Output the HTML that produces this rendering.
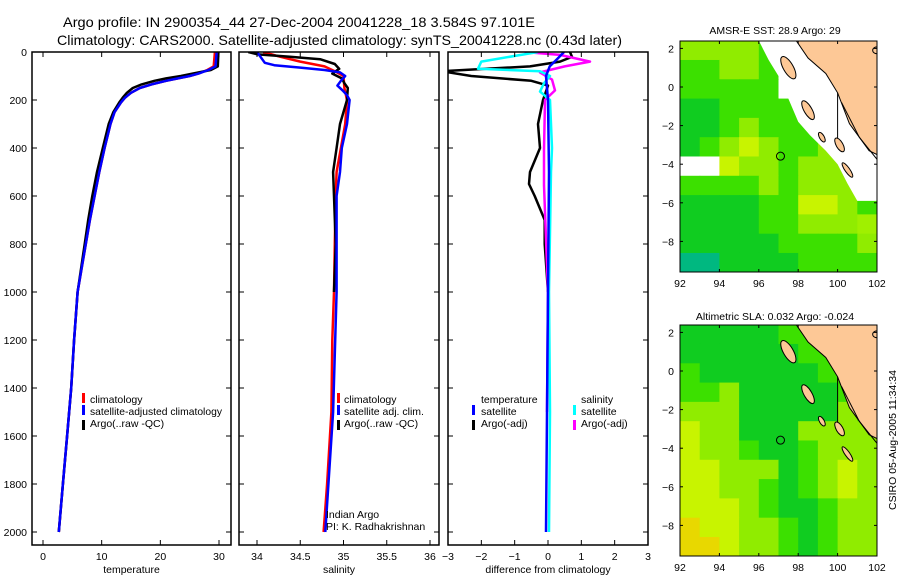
<!DOCTYPE html>
<html><head><meta charset="utf-8"><style>
html,body{margin:0;padding:0;background:#fff}
svg{display:block;font-family:"Liberation Sans",sans-serif}
</style></head><body>
<svg id="s" width="900" height="580" viewBox="0 0 900 580" xmlns="http://www.w3.org/2000/svg">
<defs>
<clipPath id="c1"><rect x="32" y="52" width="199" height="493"/></clipPath>
<clipPath id="c2"><rect x="239" y="52" width="200" height="493"/></clipPath>
<clipPath id="c3"><rect x="448" y="52" width="200" height="493"/></clipPath>
<clipPath id="m1"><rect x="680" y="41" width="197" height="231"/></clipPath>
<clipPath id="m2"><rect x="680" y="325" width="197" height="231"/></clipPath>
</defs>
<text x="63" y="27" font-size="14" textLength="472" lengthAdjust="spacingAndGlyphs">Argo profile: IN 2900354_44 27-Dec-2004 20041228_18 3.584S 97.101E</text>
<text x="57" y="45" font-size="14" textLength="565" lengthAdjust="spacingAndGlyphs">Climatology: CARS2000. Satellite-adjusted climatology: synTS_20041228.nc (0.43d later)</text>
<g id="g1" clip-path="url(#c1)"></g>
<g id="g2" clip-path="url(#c2)"></g>
<g id="g3" clip-path="url(#c3)"></g>
<g id="axes"></g>
<g id="map1" clip-path="url(#m1)"></g>
<g id="map2" clip-path="url(#m2)"></g>
<g id="maxes"></g>

<g font-size="10.5">
<rect x="82" y="393" width="3" height="10" fill="#f00"/><text x="90" y="403">climatology</text>
<rect x="82" y="405" width="3" height="10" fill="#00f"/><text x="90" y="415" textLength="132" lengthAdjust="spacingAndGlyphs">satellite-adjusted climatology</text>
<rect x="82" y="420" width="3" height="10" fill="#000"/><text x="90" y="427">Argo(..raw -QC)</text>
</g>
<g font-size="10.5">
<rect x="337" y="393" width="3" height="10" fill="#f00"/><text x="344" y="403">climatology</text>
<rect x="337" y="405" width="3" height="10" fill="#00f"/><text x="344" y="415">satellite adj. clim.</text>
<rect x="337" y="420" width="3" height="10" fill="#000"/><text x="344" y="427">Argo(..raw -QC)</text>
<text x="326" y="518">Indian Argo</text>
<text x="326" y="530">PI: K. Radhakrishnan</text>
</g>
<g font-size="10.5">
<text x="481" y="403">temperature</text>
<rect x="472" y="405" width="3" height="10" fill="#00f"/><text x="481" y="415">satellite</text>
<rect x="472" y="420" width="3" height="10" fill="#000"/><text x="481" y="427">Argo(-adj)</text>
<text x="581" y="403">salinity</text>
<rect x="573" y="405" width="3" height="10" fill="#0ff"/><text x="581" y="415">satellite</text>
<rect x="573" y="420" width="3" height="10" fill="#f0f"/><text x="581" y="427">Argo(-adj)</text>
</g>
<text x="775" y="34" font-size="10.5" text-anchor="middle">AMSR-E SST: 28.9 Argo: 29</text>
<text x="775" y="320" font-size="10.5" text-anchor="middle">Altimetric SLA: 0.032 Argo: -0.024</text>
<text transform="translate(896,440) rotate(-90)" font-size="10.5" text-anchor="middle">CSIRO 05-Aug-2005 11:34:34</text>
</svg>
<script>
// ---- profile data ----
const tDepth = [0,60,75,90,100,110,120,135,150,170,190,210,250,300,400,500,600,700,800,1000,1200,1400,1600,1800,2000];
const tClim  = [29.3,29.1,28,26.5,25,23,21,18.5,16.5,15,14,13.3,12.2,11.5,10.5,9.6,8.8,8.0,7.3,5.9,5.3,4.8,4.1,3.4,2.7];
const tSat   = [29.6,29.4,28.2,26.5,25,23,21,18.5,16.5,15,14,13.3,12.2,11.5,10.5,9.6,8.8,8.0,7.3,5.9,5.3,4.8,4.1,3.4,2.7];
const tArgo  = [29.9,29.8,28.6,25.5,23.5,21,19,16.8,15.3,14.3,13.6,13.0,12.0,11.2,10.2,9.2,8.4,7.7,7.1,5.9,5.3,4.8,4.1,3.4,2.7];

const sDepth = [0,20,40,60,80,100,150,200,300,400,500,600,800,1000,1200,1500,1800,2000];
const sClim  = [34.07,34.27,34.5,34.78,34.9,35.0,35.01,35.04,35.02,34.97,34.92,34.91,34.9,34.89,34.87,34.86,34.81,34.77];
const sSatD  = [0,30,45,55,65,75,85,100,120,140,160,180,200,300,400,500,600,1000,1500,2000];
const sSat   = [34.0,34.06,34.09,34.2,34.5,34.78,34.96,35.02,34.97,34.93,34.99,35.04,35.07,35.04,34.98,34.96,34.92,34.92,34.88,34.79];
const sArgoD = [0,10,20,30,50,70,90,110,130,150,200,300,400,500,600,800,1000];
const sArgo  = [33.9,34.01,34.38,34.73,34.9,34.95,34.87,34.98,35.01,35.05,35.04,34.96,34.92,34.88,34.89,34.91,34.89];

const dTsD = [0,30,60,100,200,500,1000,1500,2000];
const dTs  = [0.48,0.27,0.05,-0.06,0,0.03,0,-0.03,-0.06];
const dTaD = [0,20,40,60,80,100,120,140,200,300,400,500,550,600,700,800,1000];
const dTa  = [0.66,0.72,0.36,-0.54,-3.2,-2.3,-0.5,0,-0.15,-0.3,-0.24,-0.54,-0.57,-0.4,-0.1,-0.1,0];
const dSsD = [0,40,70,80,100,130,165,200,300,400,500,1000,1500,2000];
const dSs  = [-0.3,-2.0,-2.1,-0.24,0.06,-0.12,-0.24,0.06,0.09,0.12,0.09,0.03,0.06,0.03];
const dSaD = [0,12,40,60,85,115,160,200,410,555,1000,1500];
const dSa  = [-0.7,0.36,1.26,0.5,-0.24,0.12,0.21,-0.09,-0.12,-0.12,0,-0.03];

const depthTicks = [0,200,400,600,800,1000,1200,1400,1600,1800,2000];
const tTicks = [0,10,20,30];
const sTicks = [34,34.5,35,35.5,36];
const dTicks = [-3,-2,-1,0,1,2,3];

// ---- map data (1-degree cells, rows from 2.4N southward, cols 92E eastward) ----
const sstRows = ["llllgwwwww","ggllgwwwww","gggggwwwww","ddgggggwww","ddglggggww","dglylgglww","wwyllglllw","gggglglllw","ddddggyylg","ddddggllle","dddddggggl","ttddddgggg"];
const slaRows = ["dddddggggg","ddddddgggg","gddddddggg","ggldddddgg","llldddddlg","ylldddllll","yllgddglll","yyllldglyl","yyllgdglyl","yyylgddgll","oyyllgdgll","ooyllgdgll"];
const colors = {w:"#ffffff",l:"#90ec00",g:"#3ce000",d:"#10cc20",t:"#00b880",y:"#c8f400",e:"#a0f000",o:"#e8d800"};
const sstEdge = [[96.0,2.4],[96.5,1.4],[97.1,0.4],[97.5,-0.6],[98.0,-1.8],[98.6,-2.5],[99.4,-3.3],[100,-4],[100.5,-5],[101,-5.9],[102.2,-5.9],[102.2,2.4]];
const coast = [[97.9,2.4],[98.5,1.5],[99.4,0.7],[100,-0.3],[100.6,-1.9],[101.6,-3.3],[102.2,-3.6],[102.2,2.4]];
const islands = [[97.5,1.0,0.25,0.65,-30],[98.5,-1.2,0.2,0.55,-30],[99.2,-2.6,0.12,0.28,-30],[100.1,-3.0,0.17,0.4,-30],[100.5,-4.3,0.12,0.45,-35],[102.0,1.9,0.22,0.18,0]];
const argoPos = [97.101,-3.584];
const lonTicks = [92,94,96,98,100,102];
const latTicks = [2,0,-2,-4,-6,-8];

const NS="http://www.w3.org/2000/svg";
function mk(tag,attrs,parent){const e=document.createElementNS(NS,tag);for(const k in attrs)e.setAttribute(k,attrs[k]);parent.appendChild(e);return e;}
const yD=d=>52+d*0.24;
const x1=t=>43+t*5.867;
const x2=s=>257+(s-34)*86.5;
const x3=v=>548+v*33.33;

function line(g,depths,vals,xf,color,name){
  const pts=depths.map((d,i)=>xf(vals[i]).toFixed(1)+","+yD(d).toFixed(1)).join(" ");
  const p=mk("polyline",{points:pts,fill:"none",stroke:color,"stroke-width":"2.5","stroke-linejoin":"round"},g);
  
  
}
const g1=document.getElementById("g1"),g2=document.getElementById("g2"),g3=document.getElementById("g3");
line(g1,tDepth,tClim,x1,"#f00","temp-climatology-line");
line(g1,tDepth,tArgo,x1,"#000","temp-argo-line");
line(g1,tDepth,tSat,x1,"#00f","temp-satellite-line");
line(g2,sDepth,sClim,x2,"#f00","sal-climatology-line");
line(g2,sArgoD,sArgo,x2,"#000","sal-argo-line");
line(g2,sSatD,sSat,x2,"#00f","sal-satellite-line");
line(g3,dTaD,dTa,x3,"#000","diff-temp-argo-line");
line(g3,dSaD,dSa,x3,"#f0f","diff-sal-argo-line");
line(g3,dSsD,dSs,x3,"#0ff","diff-sal-satellite-line");
line(g3,dTsD,dTs,x3,"#00f","diff-temp-satellite-line");

// axes
const ax=document.getElementById("axes");
const panels=[[32,231,tTicks,x1,"temperature"],[239,439,sTicks,x2,"salinity"],[448,648,dTicks,x3,"difference from climatology"]];
panels.forEach(p=>{
  const [l,r,ticks,xf,title]=p;
  const fr=mk("rect",{x:l,y:52,width:r-l,height:493,fill:"none",stroke:"#000","stroke-width":"1.5"},ax);
  
  
  ticks.forEach(v=>{
    const x=xf(v);
    mk("line",{x1:x,y1:52,x2:x,y2:57,stroke:"#000"},ax);
    mk("line",{x1:x,y1:545,x2:x,y2:540,stroke:"#000"},ax);
    const t=mk("text",{x:x,y:560,"font-size":"10.5","text-anchor":"middle"},ax);
    t.textContent=v<0?"\u2212"+(-v):String(v);
    
    
  });
  depthTicks.forEach(d=>{
    const y=yD(d);
    mk("line",{x1:l,y1:y,x2:l+5,y2:y,stroke:"#000"},ax);
    mk("line",{x1:r,y1:y,x2:r-5,y2:y,stroke:"#000"},ax);
  });
  const tt=mk("text",{x:(l+r)/2,y:573,"font-size":"10.5","text-anchor":"middle"},ax);
  tt.textContent=title;
  
  
});
depthTicks.forEach(d=>{
  const t=mk("text",{x:27,y:yD(d)+4,"font-size":"10.5","text-anchor":"end"},ax);
  t.textContent=String(d);
  
  
});

// maps
const lonX=lon=>680+(lon-92)*19.7;
const latY=(lat,off)=>87-lat*19.3+off;
function drawMap(gid,rows,off,edge){
  const g=document.getElementById(gid);
  rows.forEach((row,ri)=>{
    for(let ci=0;ci<row.length;ci++){
      const lat=2.4-ri, lon=92+ci;
      const r=mk("rect",{x:lonX(lon),y:latY(lat,off),width:20.2,height:19.8,fill:colors[row[ci]]},g);
      
      
    }
  });
  if(edge){
    const pts=edge.map(p=>lonX(p[0])+","+latY(p[1],off)).join(" ");
    mk("polygon",{points:pts+" "+lonX(102.2)+","+latY(2.4,off),fill:"#fff"},g);
  }
  const cp=coast.map(p=>lonX(p[0])+","+latY(p[1],off)).join(" ");
  const land=mk("polygon",{points:cp,fill:"#fdc896",stroke:"#000","stroke-width":"1"},g);
  
  
  mk("polyline",{points:`${lonX(100)},${latY(-0.3,off)} ${lonX(100)},${latY(-2.8,off)}`,stroke:"#000",fill:"none"},g);
  mk("polyline",{points:`${lonX(100.2)},${latY(-0.8,off)} ${lonX(101.1)},${latY(-2.6,off)} ${lonX(102.2)},${latY(-4.0,off)}`,stroke:"#000",fill:"none"},g);
  islands.forEach(is=>{
    const e=mk("ellipse",{cx:lonX(is[0]),cy:latY(is[1],off),rx:is[2]*19.7,ry:is[3]*19.3,fill:"#fdc896",stroke:"#000",transform:`rotate(${is[4]} ${lonX(is[0])} ${latY(is[1],off)})`},g);
    
    
  });
  const c=mk("circle",{cx:lonX(argoPos[0]),cy:latY(argoPos[1],off),r:4,fill:"none",stroke:"#000"},g);
  
  
  const ma=document.getElementById("maxes");
  const f=mk("rect",{x:680,y:41+off,width:197,height:231,fill:"none",stroke:"#000"},ma);
  
  
  lonTicks.forEach(lon=>{
    const x=lonX(lon);
    mk("line",{x1:x,y1:41+off,x2:x,y2:44+off,stroke:"#000"},ma);
    mk("line",{x1:x,y1:272+off,x2:x,y2:269+off,stroke:"#000"},ma);
    const t=mk("text",{x:x,y:287+off,"font-size":"10.5","text-anchor":"middle"},ma);
    t.textContent=String(lon);
    
    
  });
  latTicks.forEach(lat=>{
    const y=latY(lat,off);
    mk("line",{x1:680,y1:y,x2:683,y2:y,stroke:"#000"},ma);
    mk("line",{x1:877,y1:y,x2:874,y2:y,stroke:"#000"},ma);
    const t=mk("text",{x:674,y:y+4,"font-size":"10.5","text-anchor":"end"},ma);
    t.textContent=lat<0?"\u2212"+(-lat):String(lat);
    
    
  });
}
drawMap("map1",sstRows,0,sstEdge);
drawMap("map2",slaRows,284,null);
</script>
</body></html>
